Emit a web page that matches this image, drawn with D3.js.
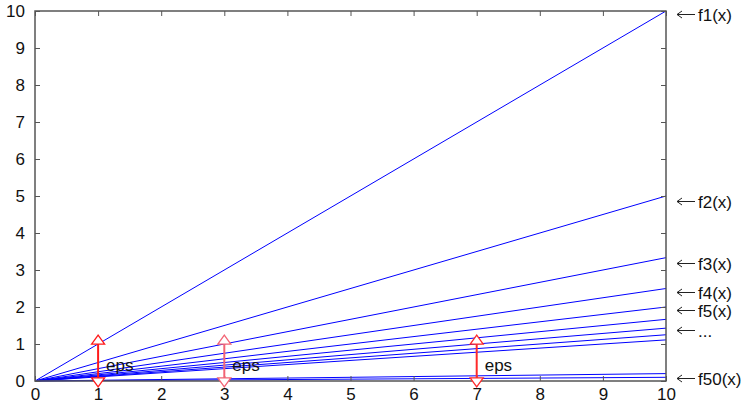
<!DOCTYPE html>
<html><head><meta charset="utf-8">
<script src="https://cdn.jsdelivr.net/npm/d3@7"></script>
<style>body{margin:0;background:#fff}svg{display:block}text{font-family:"Liberation Sans",Arial,sans-serif}</style>
</head><body><svg id="c" width="747" height="404"></svg>
<script>
const divisors = [1,2,3,4,5,6,7,8,9,50,100];
const xTicks = [0,1,2,3,4,5,6,7,8,9,10];
const yTicks = [0,1,2,3,4,5,6,7,8,9,10];
const arrowXs = [1,3,7];
const arrowColors = ["#ff1a1a","#f26474","#ff2a2a"];
const arrowRange = [-0.16, 1.24];
const epsLabel = "eps";
const epsY = 0.27;
const rightLabelNames = ["f1(x)","f2(x)","f3(x)","f4(x)","f5(x)","...","f50(x)"];
const rightLabelValues = [9.92, 4.87, 3.2, 2.4, 1.92, 1.38, 0.09];

const svg = d3.select("#c");
const x = d3.scaleLinear().domain([0,10]).range([35,666]);
const y = d3.scaleLinear().domain([0,10]).range([381,11]);
const axisCol = "#555";
const fs = 17;

// lines
const line = d3.line().x(d=>x(d[0])).y(d=>y(d[1]));
svg.append("g").selectAll("path").data(divisors).join("path")
  .attr("d", n => line([[0,0],[10,10/n]]))
  .attr("fill","none").attr("stroke","#0000ff").attr("stroke-width",1);

// frame
svg.append("rect").attr("x",x(0)).attr("y",y(10)).attr("width",x(10)-x(0)).attr("height",y(0)-y(10))
  .attr("fill","none").attr("stroke",axisCol).attr("stroke-width",1.5);

// axes with inward ticks
const gx = svg.append("g").attr("transform",`translate(0,${y(0)})`)
  .call(d3.axisBottom(x).tickValues(xTicks).tickSize(-5).tickPadding(10).tickFormat(d3.format("d")));
const gxt = svg.append("g").attr("transform",`translate(0,${y(10)})`)
  .call(d3.axisTop(x).tickValues(xTicks).tickSize(-5).tickFormat(""));
const gy = svg.append("g").attr("transform",`translate(${x(0)},0)`)
  .call(d3.axisLeft(y).tickValues(yTicks).tickSize(-5).tickPadding(10).tickFormat(d3.format("d")));
const gyr = svg.append("g").attr("transform",`translate(${x(10)},0)`)
  .call(d3.axisRight(y).tickValues(yTicks).tickSize(-5).tickFormat(""));
[gx,gxt,gy,gyr].forEach(g=>{
  g.select(".domain").remove();
  g.selectAll(".tick line").attr("stroke",axisCol);
  g.selectAll("text").attr("font-size",fs).attr("fill","#111").attr("font-family","Liberation Sans, Arial, sans-serif");
});
gx.selectAll("text").attr("dy","0.55em");

// eps arrows
const ag = svg.append("g");
arrowXs.forEach((ax,i)=>{
  const c = arrowColors[i];
  const px = x(ax), top = y(arrowRange[1]), bot = y(arrowRange[0]);
  const hh = 9, hw = 6.5;
  ag.append("line").attr("x1",px).attr("x2",px).attr("y1",top+hh).attr("y2",bot-hh)
    .attr("stroke",c).attr("stroke-width",2);
  ag.append("path").attr("d",`M${px},${top}L${px-hw},${top+hh}L${px+hw},${top+hh}Z`)
    .attr("fill","#fff").attr("stroke",c).attr("stroke-width",1.3);
  ag.append("path").attr("d",`M${px},${bot}L${px-hw},${bot-hh}L${px+hw},${bot-hh}Z`)
    .attr("fill","#fff").attr("stroke",c).attr("stroke-width",1.3);
  ag.append("text").attr("x",px+8).attr("y",y(epsY)).attr("font-size",fs).attr("fill","#111").text(epsLabel);
});

// right labels with long arrows
const rl = svg.append("g").selectAll("g").data(rightLabelNames).join("g")
  .attr("transform",(d,i)=>`translate(0,${Math.round(y(rightLabelValues[i]))+0.5})`);
rl.append("path").attr("d","M677,0H695M677,0L682,-3.5M677,0L682,3.5")
  .attr("fill","none").attr("stroke","#222").attr("stroke-width",1);
rl.append("text").attr("x",698).attr("dy","0.36em")
  .attr("font-size",fs).attr("fill","#111").text(d=>d);
</script></body></html>
